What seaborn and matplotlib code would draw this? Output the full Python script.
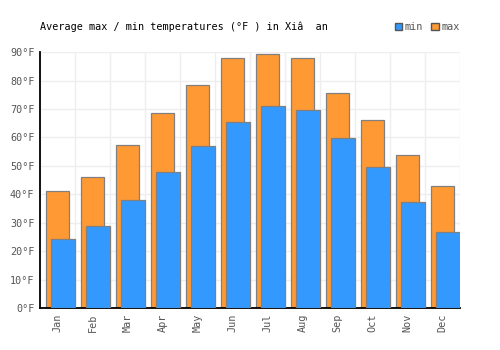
import numpy as np
import pandas as pd
import matplotlib
matplotlib.use("Agg")
import matplotlib.pyplot as plt
import seaborn as sns
from matplotlib.patches import Patch

months = ['Jan', 'Feb', 'Mar', 'Apr', 'May', 'Jun', 'Jul', 'Aug', 'Sep', 'Oct', 'Nov', 'Dec']
t_max = [41.0, 46.0, 57.3, 68.5, 78.3, 88.1, 89.2, 87.8, 75.8, 66.3, 53.7, 42.9]
t_min = [24.2, 28.7, 37.9, 47.7, 57.0, 65.6, 70.9, 69.5, 59.7, 49.6, 37.2, 26.6]
yticks = [0, 10, 20, 30, 40, 50, 60, 70, 80, 90]

df = pd.DataFrame({'month': months, 'max': t_max, 'min': t_min})

sns.set_style('white')
plt.rcParams['font.family'] = ['DejaVu Sans Mono']

fig = plt.figure(figsize=(5, 3.5), dpi=100)
ax = fig.add_axes([0.08, 0.12, 0.84, 0.731])

edge = '#808080'
sns.barplot(data=df, x='month', y='max', color='#FF9933', saturation=1,
            width=0.66, edgecolor=edge, linewidth=0.9, ax=ax, zorder=2)
n_max = len(ax.patches)
sns.barplot(data=df, x='month', y='min', color='#3399FF', saturation=1,
            width=0.69, edgecolor=edge, linewidth=0.9, ax=ax, zorder=3)
# blue bars sit shifted to the right of the orange ones
for p in ax.patches[n_max:]:
    p.set_x(p.get_x() + 0.165)

ax.set_xlim(-0.5, 11.5)
ax.set_ylim(0, 90)
ax.set_yticks(yticks)
ax.set_yticklabels([f'{v}°F' for v in yticks])
ax.set_xticks(range(12))
ax.set_xticklabels(months, rotation=90)
ax.set_xticks(np.arange(-0.5, 12, 1), minor=True)
ax.tick_params(axis='both', which='both', length=0, labelsize=7.3, labelcolor='#555555')
ax.tick_params(axis='x', pad=4)
ax.tick_params(axis='y', pad=4)
ax.set_xlabel('')
ax.set_ylabel('')

ax.grid(False)
ax.yaxis.grid(True, color='#eeeeee', linewidth=1, zorder=0)
ax.xaxis.grid(True, which='minor', color='#eeeeee', linewidth=1, zorder=0)
ax.set_axisbelow(True)

for s in ['top', 'right']:
    ax.spines[s].set_visible(False)
for s in ['left', 'bottom']:
    ax.spines[s].set_color('black')
    ax.spines[s].set_linewidth(1.3)

fig.text(0.08, 1 - 27 / 350, 'Average max / min temperatures (°F ) in Xiâ  an',
         fontsize=7.3, va='center', ha='left', color='black')

handles = [Patch(facecolor='#3399FF', edgecolor='#555555', label='min'),
           Patch(facecolor='#FF9933', edgecolor='#555555', label='max')]
leg = fig.legend(handles=handles, loc='center right', bbox_to_anchor=(0.93, 1 - 27 / 350),
                 ncol=2, frameon=False, fontsize=7.3, handlelength=0.7, handleheight=0.7,
                 handletextpad=0.3, columnspacing=0.8, borderpad=0)
for t in leg.get_texts():
    t.set_color('#555555')

fig.savefig('out.png', dpi=100)
